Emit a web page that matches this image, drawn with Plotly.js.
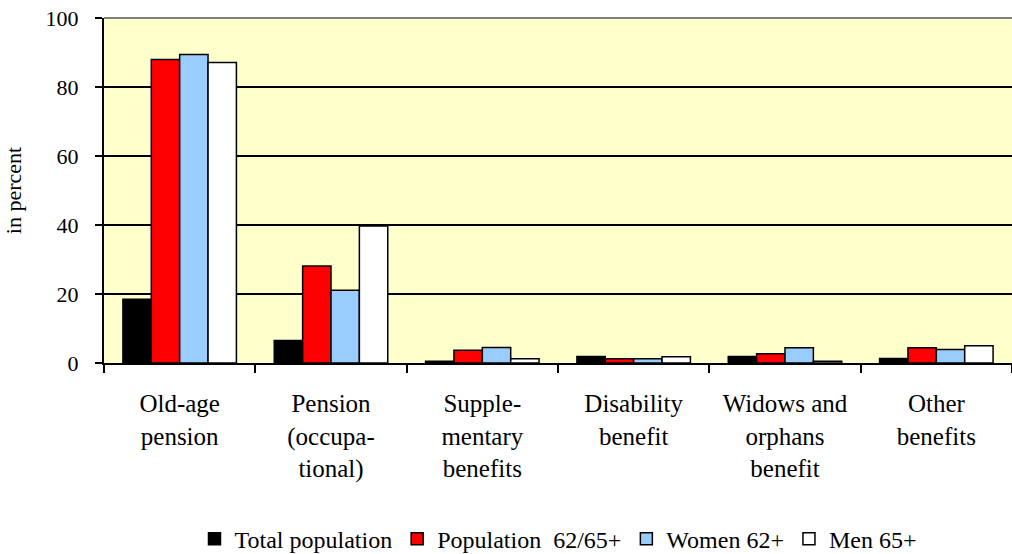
<!DOCTYPE html>
<html>
<head>
<meta charset="utf-8">
<script src="https://cdn.plot.ly/plotly-3.0.1.min.js"></script>
<style>
  html, body { margin: 0; padding: 0; background: #fff; }
  #chart { width: 1012px; height: 554px; }
</style>
</head>
<body>
<div id="chart"></div>
<script>
// Benefit receipt by type, in percent
const categories = [
    'Old-age<br>pension',
    'Pension<br>(occupa-<br>tional)',
    'Supple-<br>mentary<br>benefits',
    'Disability<br>benefit',
    'Widows and<br>orphans<br>benefit',
    'Other<br>benefits'
];
const seriesNames = ['Total population', 'Population\u00a0 62/65+', 'Women 62+', 'Men 65+'];
const totalPopulation = [18.5, 6.5, 0.5, 1.9, 1.9, 1.3];
const population6265 = [88.0, 28.1, 3.7, 1.2, 2.7, 4.4];
const women62 = [89.4, 21.1, 4.5, 1.2, 4.4, 3.9];
const men65 = [87.1, 39.7, 1.2, 1.8, 0.5, 5.0];
const yTicks = [0, 20, 40, 60, 80, 100];

const colors = ['#000000', '#ff0000', '#99ccff', '#ffffff'];
const values = [totalPopulation, population6265, women62, men65];

const traces = values.map((v, i) => ({
    type: 'bar',
    name: seriesNames[i],
    x: categories,
    y: v,
    marker: { color: colors[i], line: { color: '#000000', width: 1.5 } },
    hoverinfo: 'y'
}));

// a single family name; a comma list is not applied
const serif = 'Liberation Serif';

const layout = {
    width: 1012,
    height: 554,
    margin: { l: 104, r: 0, t: 18, b: 191 },
    paper_bgcolor: '#ffffff',
    plot_bgcolor: '#ffffcc',
    font: { family: serif, size: 22, color: '#000' },
    barmode: 'group',
    bargap: 0.25,
    bargroupgap: 0,
    showlegend: true,
    legend: {
        orientation: 'h',
        x: 0.5, xanchor: 'center',
        yref: 'container',
        y: 0.027, yanchor: 'middle',
        font: { family: serif, size: 24, color: '#000' },
        traceorder: 'normal',
        itemwidth: 30
    },
    xaxis: {
        type: 'category',
        showline: true, linecolor: '#000', linewidth: 2,
        ticks: 'outside', tickson: 'boundaries', ticklen: 8, tickcolor: '#000', tickwidth: 2,
        ticklabelstandoff: 17,
        showgrid: false,
        tickfont: { family: serif, size: 25, color: '#000' }
    },
    yaxis: {
        range: [0, 100],
        tickvals: yTicks,
        ticks: 'outside', ticklen: 7, tickcolor: '#000', tickwidth: 2,
        ticklabelstandoff: 12,
        showline: true, linecolor: '#000', linewidth: 2,
        showgrid: true, gridcolor: '#000', gridwidth: 1.5,
        zeroline: false,
        tickfont: { family: serif, size: 22, color: '#000' },
        title: { text: 'in percent', font: { family: serif, size: 22, color: '#000' }, standoff: 18 }
    },
    shapes: [{
        type: 'line', xref: 'paper', yref: 'paper',
        x0: 0, x1: 1, y0: 1, y1: 1,
        line: { color: '#808080', width: 2 }
    }]
};

Plotly.newPlot('chart', traces, layout, { displayModeBar: false, staticPlot: true });
</script>
</body>
</html>
